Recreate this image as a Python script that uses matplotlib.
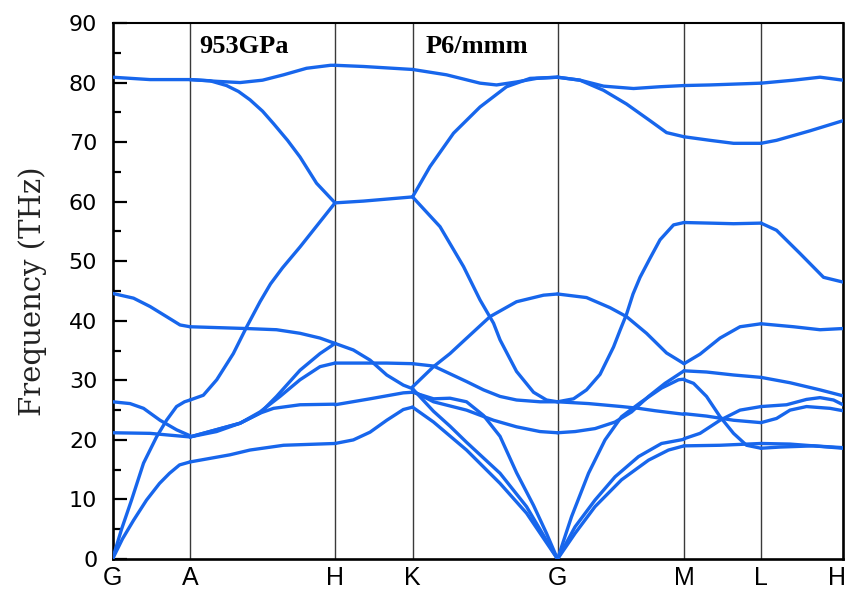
import matplotlib.pyplot as plt
from matplotlib.ticker import MultipleLocator
from matplotlib.transforms import ScaledTranslation

# high symmetry points along the k path (path length, arbitrary units)
kpt_labels = ['G', 'A', 'H', 'K', 'G', 'M', 'L', 'H']
kpt_pos = [0, 77.5, 222.5, 300, 445, 571.5, 648.5, 730.5]

# phonon branches for each path segment, (k, frequency THz)
bands_GA = [
    [(0, 0), (10, 3.4), (21, 6.5), (34, 9.9), (47, 12.7), (57, 14.4), (67, 15.8), (77.5, 16.3)],
    [(0, 0), (9, 5.0), (19, 9.9), (31, 16.1), (44, 20.5), (54, 23.3), (64, 25.6), (72, 26.4), (77.5, 26.7)],
    [(0, 21.2), (37.5, 21.1), (57, 20.8), (77.5, 20.5)],
    [(0, 26.4), (17.5, 26.1), (31, 25.3), (47.5, 23.3), (64, 21.7), (77.5, 20.7)],
    [(0, 44.6), (21, 43.8), (37.5, 42.4), (54, 40.7), (67.5, 39.3), (77.5, 39.0)],
    [(0, 80.9), (37.5, 80.5), (77.5, 80.5)],
]
bands_AH = [
    [(77.5, 16.3), (97.5, 16.9), (117.5, 17.5), (137.5, 18.3), (171, 19.1), (222.5, 19.4)],
    [(77.5, 26.7), (90.8, 27.5), (104.2, 30.1), (120.8, 34.5), (134.2, 39.0), (147.5, 43.2),
     (158, 46.2), (170, 48.9), (187.5, 52.4), (205, 56.1), (222.5, 59.8)],
    [(77.5, 80.5), (105, 80.2), (127.5, 80.0), (150, 80.4), (171, 81.3), (194, 82.4), (218, 82.9), (222.5, 82.9)],
    [(77.5, 80.5), (97.5, 80.3), (114, 79.5), (126, 78.5), (137.5, 77.1), (150, 75.2), (161, 73.1),
     (175, 70.3), (187.5, 67.5), (204, 63.1), (222.5, 59.8)],
    [(77.5, 39.0), (134, 38.7), (164, 38.5), (187.5, 37.9), (207.5, 37.1), (222.5, 36.2)],
    [(77.5, 20.5), (104, 21.4), (127.5, 22.8), (147.5, 24.5), (164, 27.3), (187.5, 31.7), (207.5, 34.5), (222.5, 36.2)],
    [(77.5, 20.5), (127.5, 22.8), (147.5, 24.7), (167.5, 27.3), (187.5, 30.1), (207.5, 32.3), (222.5, 32.9)],
    [(77.5, 20.5), (127.5, 22.8), (147.5, 24.5), (161, 25.3), (187.5, 25.9), (222.5, 26.0)],
]
bands_HK = [
    [(222.5, 82.9), (251, 82.7), (300, 82.2)],
    [(222.5, 59.8), (251, 60.1), (300, 60.8)],
    [(222.5, 36.2), (240.8, 35.1), (257.5, 33.4), (274.2, 30.9), (290.8, 29.2), (300, 28.6)],
    [(222.5, 32.9), (274, 32.9), (300, 32.8)],
    [(222.5, 25.9), (257.5, 26.9), (290.8, 27.9), (300, 28.0)],
    [(222.5, 19.4), (240.8, 20.0), (257.5, 21.3), (274.2, 23.3), (290.8, 25.1), (300, 25.5)],
]
bands_KG = [
    [(300, 82.2), (334, 81.3), (367.5, 79.9), (384, 79.6), (404, 80.1), (424, 80.7), (445, 80.9)],
    [(300, 60.8), (317.5, 65.9), (341, 71.5), (367.5, 75.9), (394, 79.3), (417.5, 80.7), (445, 80.9)],
    [(300, 60.8), (327.5, 55.8), (351, 49.1), (367.5, 43.5), (381, 39.6), (387.5, 36.8), (404, 31.5),
     (421, 28.0), (434, 26.7), (445, 26.4)],
    [(300, 32.8), (321, 32.4), (337.5, 31.1), (354, 29.8), (371, 28.4), (387.5, 27.3), (404, 26.7), (427.5, 26.4), (445, 26.4)],
    [(300, 28.9), (321, 32.3), (337.5, 34.5), (351, 36.6), (377.5, 40.7), (404, 43.2), (431, 44.3), (445, 44.5)],
    [(300, 28.0), (321, 26.9), (337.5, 27.0), (354, 26.4), (371, 24.1), (387.5, 20.6), (404, 14.5), (421, 9.0), (434, 4.3), (445, 0)],
    [(300, 28.2), (321, 26.4), (354, 25.0), (381, 23.3), (404, 22.2), (427.5, 21.4), (445, 21.2)],
    [(300, 28.6), (321, 24.8), (337.5, 22.3), (354, 19.6), (387.5, 14.4), (414, 8.8), (445, 0)],
    [(300, 25.5), (321, 23.0), (354, 18.3), (387.5, 12.7), (414, 7.7), (445, 0)],
]
bands_GM = [
    [(445, 80.9), (467.5, 80.4), (491, 79.4), (521, 79.0), (547.5, 79.3), (571.5, 79.5)],
    [(445, 80.9), (467.5, 80.4), (491, 78.7), (514, 76.4), (537.5, 73.6), (554, 71.6), (571.5, 70.9)],
    [(445, 26.4), (461, 26.9), (474, 28.4), (487.5, 31.0), (501, 35.6), (507.5, 38.4), (514, 41.1),
     (520.5, 44.5), (527.5, 47.3), (537.5, 50.5), (547.5, 53.6), (561, 56.1), (571.5, 56.5)],
    [(445, 44.5), (474, 43.9), (497.5, 42.2), (514, 40.7), (534, 37.9), (554, 34.6), (571.5, 32.8)],
    [(445, 26.4), (476, 26.1), (509, 25.6), (526, 25.3), (542.5, 24.9), (571.5, 24.3)],
    [(445, 21.2), (462.5, 21.4), (482.5, 21.9), (502.5, 23.0), (519, 24.7), (536, 27.3), (552.5, 29.5), (571.5, 31.6)],
    [(445, 0), (459, 7.1), (476, 14.4), (492.5, 20.0), (509, 23.9), (529, 26.4), (549, 28.7), (566, 30.1), (571.5, 30.2)],
    [(445, 0), (462.5, 5.4), (482.5, 9.9), (502.5, 13.8), (526, 17.2), (549, 19.4), (571.5, 20.1)],
    [(445, 0), (462.5, 4.3), (482.5, 8.8), (509, 13.3), (536, 16.6), (556, 18.3), (571.5, 19.0)],
]
bands_ML = [
    [(571.5, 79.5), (597.5, 79.6), (648.5, 79.9)],
    [(571.5, 70.9), (597.5, 70.3), (621, 69.8), (648.5, 69.8)],
    [(571.5, 56.5), (597.5, 56.4), (621, 56.3), (648.5, 56.4)],
    [(571.5, 32.8), (587.5, 34.4), (607.5, 37.1), (627.5, 39.0), (648.5, 39.5)],
    [(571.5, 31.6), (594, 31.4), (621, 30.9), (648.5, 30.5)],
    [(571.5, 30.1), (581, 29.5), (594, 27.3), (607.5, 23.9), (621, 21.1), (634, 19.1), (648.5, 18.6)],
    [(571.5, 24.4), (594, 24.0), (621, 23.3), (648.5, 22.9)],
    [(571.5, 20.2), (587.5, 21.1), (607.5, 23.3), (627.5, 25.0), (648.5, 25.6)],
    [(571.5, 19.0), (607.5, 19.1), (648.5, 19.4)],
]
bands_LH = [
    [(648.5, 79.9), (681, 80.4), (707.5, 80.9), (730.5, 80.4)],
    [(648.5, 69.8), (664, 70.3), (697.5, 71.9), (730.5, 73.6)],
    [(648.5, 56.4), (664, 55.2), (687.5, 51.3), (711, 47.3), (730.5, 46.5)],
    [(648.5, 39.5), (681, 39.0), (707.5, 38.5), (730.5, 38.7)],
    [(648.5, 30.5), (677.5, 29.6), (707.5, 28.4), (730.5, 27.4)],
    [(648.5, 18.6), (667.5, 18.8), (701, 19.0), (730.5, 18.6)],
    [(648.5, 22.9), (664, 23.6), (677.5, 25.0), (694, 25.6), (717.5, 25.3), (730.5, 24.9)],
    [(648.5, 25.6), (674, 25.9), (694, 26.8), (707.5, 27.1), (721, 26.7), (730.5, 25.9)],
    [(648.5, 19.4), (677.5, 19.3), (701, 19.0), (730.5, 18.7)],
]

pressure_label = '953GPa'
space_group = 'P6/mmm'

blue = '#1766ec'

fig = plt.figure(figsize=(8.5, 5.93), dpi=100)
ax = fig.add_axes([0.1324, 0.0573, 0.8594, 0.9039])

for seg in [bands_GA, bands_AH, bands_HK, bands_KG, bands_GM, bands_ML, bands_LH]:
    for branch in seg:
        k = [p[0] for p in branch]
        f = [p[1] for p in branch]
        ax.plot(k, f, color=blue, lw=2.4, solid_joinstyle='round', solid_capstyle='round', zorder=3)

for x in kpt_pos[1:-1]:
    ax.axvline(x, color='#3a3a3a', lw=1.0, zorder=2)

ax.set_xlim(kpt_pos[0], kpt_pos[-1])
ax.set_ylim(0, 90)

ax.set_xticks(kpt_pos)
ax.set_xticklabels(kpt_labels, fontsize=18, family='Liberation Sans')
ax.tick_params(axis='x', length=0, pad=5)
# last label sits right on the figure edge, nudge it in a bit
last = ax.get_xticklabels()[-1]
last.set_transform(last.get_transform() + ScaledTranslation(-4 / 72, 0, fig.dpi_scale_trans))

ax.yaxis.set_major_locator(MultipleLocator(10))
ax.yaxis.set_minor_locator(MultipleLocator(5))
ax.tick_params(axis='y', which='major', direction='in', length=10, width=1.6, pad=11, labelsize=16)
ax.tick_params(axis='y', which='minor', direction='in', length=6, width=1.6)
for lab in ax.get_yticklabels():
    lab.set_family('DejaVu Sans')

for s in ['left', 'bottom', 'right']:
    ax.spines[s].set_linewidth(1.9)
ax.spines['top'].set_linewidth(1.5)

ax.text(86.5, 86.0, pressure_label, fontsize=19, fontweight='bold', family='Liberation Serif', va='center', ha='left')
ax.text(313.5, 86.0, space_group, fontsize=19, fontweight='bold', family='Liberation Serif', va='center', ha='left')

fig.text(0.038, 0.509, 'Frequency (THz)', rotation=90, fontsize=21, family='DejaVu Serif',
         va='center', ha='center', color='#222222')

fig.savefig('out.png', dpi=100)
